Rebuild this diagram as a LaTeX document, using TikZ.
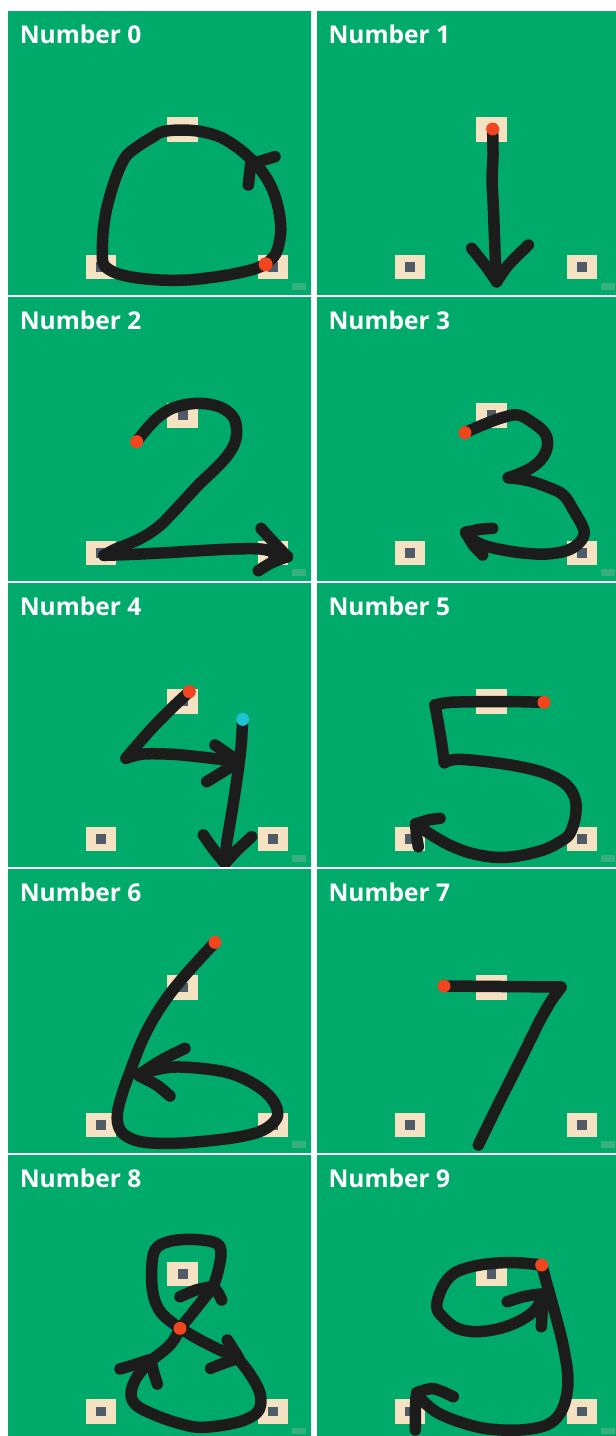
\documentclass[tikz,border=0pt]{standalone}
\usepackage{fontspec}
\setmainfont{Open Sans}
\definecolor{pgreen}{HTML}{00AA6A}
\definecolor{beige}{HTML}{F5E2C2}
\definecolor{slate}{HTML}{4F5B66}
\definecolor{ink}{HTML}{1C1C1C}
\definecolor{reddot}{HTML}{F0451F}
\definecolor{cyandot}{HTML}{1BC3D3}
\definecolor{wmark}{HTML}{36B07E}
\tikzset{
  pen/.style={draw=ink, line width=11.5pt, line cap=round, line join=round},
  startdot/.style={fill=reddot},
  seconddot/.style={fill=cyandot},
  paneltitle/.style={text=white, font=\bfseries\fontsize{24.5}{28}\selectfont, inner sep=0pt, anchor=base west},
  zoomed/.style={x=0.333333pt, y=-0.333333pt}
}
\newcommand\mypanel[3]{%
  \begin{scope}[xshift=#1pt, yshift=-#2pt]
    \fill[pgreen] (0,0) rectangle (303,284);
    \foreach \cx/\cy in {174.7/118.5, 93.1/256.2, 265.1/256.2} {
      \fill[beige] (\cx-15.3,\cy-12.2) rectangle (\cx+15.3,\cy+12.2);
      \fill[slate] (\cx-4.9,\cy-4.9) rectangle (\cx+4.9,\cy+4.9);
    }
    \fill[wmark] (284.3,272.3) rectangle (298,279);
    \node[paneltitle] (t#3) at (11.6,32.3) {Number #3};
  \end{scope}}
\begin{document}
\begin{tikzpicture}[x=1pt, y=-1pt]
\useasboundingbox (0,0) rectangle (616,1436);
\clip (0,0) rectangle (616,1436);
\fill[white] (0,0) rectangle (616,1436);
\mypanel{8}{11}{0}
\mypanel{316.7}{11}{1}
\mypanel{8}{296.8}{2}
\mypanel{316.7}{296.8}{3}
\mypanel{8}{582.8}{4}
\mypanel{316.7}{582.8}{5}
\mypanel{8}{868.9}{6}
\mypanel{316.7}{868.9}{7}
\mypanel{8}{1155.3}{8}
\mypanel{316.7}{1155.3}{9}

% ---- Number 0
\begin{scope}
\clip (8,11) rectangle (311,295);
\begin{scope}[zoomed]
\draw[pen] plot[smooth, tension=0.55] coordinates {(797,793) (828,760) (842,700) (838,640) (822,580) (797,530) (765,490) (722,450) (665,413) (605,395) (545,390) (488,395) (455,413) (412,440) (377,470) (352,520) (332,580) (317,640) (309,700) (307,760) (312,795) (345,818) (400,832) (480,840) (560,840) (630,833) (700,822) (760,808) (797,793)};
\draw[pen] (745,555) -- (752,492) -- (825,470);
\fill[startdot] (797,793) circle[radius=7pt];
\end{scope}
\end{scope}

% ---- Number 1
\begin{scope}
\clip (316.7,11) rectangle (620,295);
\begin{scope}[xshift=300pt, zoomed]
\draw[pen] plot[smooth] coordinates {(578,392) (579,470) (576,540) (580,620) (583,700) (586,780) (590,845)};
\draw[pen] plot[smooth] coordinates {(515,745) (555,795) (590,845)};
\draw[pen] plot[smooth] coordinates {(590,845) (625,795) (685,735)};
\fill[startdot] (578,387) circle[radius=6.5pt];
\end{scope}
\end{scope}

% ---- Number 2
\begin{scope}
\clip (8,296.8) rectangle (311,580.8);
\begin{scope}[yshift=-280pt, zoomed]
\draw[pen] plot[smooth, tension=0.6] coordinates {(410,485) (440,447) (480,407) (530,380) (600,370) (662,382) (700,412) (710,452) (703,492) (678,532) (640,572) (598,612) (558,655) (518,698) (478,738) (435,768) (390,790) (345,808) (312,826)};
\draw[pen] plot[smooth] coordinates {(312,826) (400,823) (500,818) (600,812) (700,807) (790,808) (862,830)};
\draw[pen] plot[smooth] coordinates {(783,745) (822,788) (862,830)};
\draw[pen] plot[smooth] coordinates {(862,830) (815,848) (775,872)};
\fill[startdot] (410,485) circle[radius=6.5pt];
\end{scope}
\end{scope}

% ---- Number 3
\begin{scope}
\clip (316.7,296.8) rectangle (620,580.8);
\begin{scope}[xshift=300pt, yshift=-280pt, zoomed]
\draw[pen] plot[smooth, tension=0.6] coordinates {(495,458) (555,432) (610,412) (655,405) (698,428) (735,460) (742,500) (722,540) (682,570) (625,593)};
\draw[pen] plot[smooth, tension=0.6] coordinates {(625,593) (685,602) (745,622) (790,645) (820,690) (852,752) (838,788) (800,812) (740,822) (680,820) (620,812) (558,798) (515,778) (497,757)};
\draw[pen] plot[smooth] coordinates {(497,757) (540,748) (578,745)};
\draw[pen] plot[smooth] coordinates {(497,757) (520,795) (548,825)};
\fill[startdot] (495,458) circle[radius=6.5pt];
\end{scope}
\end{scope}

% ---- Number 4
\begin{scope}
\clip (8,582.8) rectangle (311,866.8);
\begin{scope}[yshift=-570pt, zoomed]
\draw[pen] plot[smooth] coordinates {(568,365) (520,410) (470,460) (420,515) (378,565)};
\draw[pen] plot[smooth] coordinates {(378,565) (430,552) (520,553) (620,563) (712,575)};
\draw[pen] (645,525) -- (710,570);
\draw[pen] (710,580) -- (620,635);
\draw[pen] plot[smooth] coordinates {(728,450) (724,520) (716,590) (703,680) (690,760) (680,820) (675,880)};
\draw[pen] plot[smooth] coordinates {(610,795) (642,840) (675,880)};
\draw[pen] plot[smooth] coordinates {(675,880) (712,840) (755,800)};
\fill[startdot] (568,365) circle[radius=6.5pt];
\fill[seconddot] (728,448) circle[radius=6.5pt];
\end{scope}
\end{scope}

% ---- Number 5
\begin{scope}
\clip (316.7,582.8) rectangle (620,866.8);
\begin{scope}[xshift=300pt, yshift=-570pt, zoomed]
\draw[pen] plot[smooth] coordinates {(732,397) (650,395) (550,395) (450,397) (405,405)};
\draw[pen] plot[smooth] coordinates {(405,405) (415,460) (425,520) (433,578)};
\draw[pen] plot[smooth, tension=0.6] coordinates {(433,578) (470,568) (560,575) (660,590) (742,612) (800,645) (826,690) (826,740) (810,790) (785,812) (735,838) (660,857) (590,862) (515,850) (450,826) (395,795) (347,762)};
\draw[pen] plot[smooth] coordinates {(347,762) (385,750) (420,745)};
\draw[pen] plot[smooth] coordinates {(347,762) (350,800) (355,830)};
\fill[startdot] (732,397) circle[radius=6.5pt];
\end{scope}
\end{scope}

% ---- Number 6
\begin{scope}
\clip (8,868.9) rectangle (311,1152.9);
\begin{scope}[yshift=-860pt, zoomed]
\draw[pen] plot[smooth, tension=0.6] coordinates {(645,247) (598,298) (550,352) (502,412) (458,480) (422,552) (392,630) (367,700) (352,762) (358,805) (385,832) (435,847) (520,850) (620,843) (720,830) (790,810) (830,775) (828,738) (800,700) (750,665) (680,637) (580,623) (500,623) (418,643)};
\draw[pen] plot[smooth] coordinates {(418,643) (485,600) (555,565)};
\draw[pen] plot[smooth] coordinates {(418,648) (470,675) (510,708)};
\fill[startdot] (645,247) circle[radius=6.5pt];
\end{scope}
\end{scope}

% ---- Number 7
\begin{scope}
\clip (316.7,868.9) rectangle (620,1152.9);
\begin{scope}[xshift=300pt, yshift=-860pt, zoomed]
\draw[pen] (432,378) -- (783,381);
\draw[pen] plot[smooth] coordinates {(783,382) (752,425) (718,485) (680,562) (640,642) (590,742) (535,855)};
\fill[startdot] (432,378) circle[radius=6.5pt];
\end{scope}
\end{scope}

% ---- Number 8
\begin{scope}
\clip (8,1155.3) rectangle (311,1440);
\begin{scope}[yshift=-1140pt, zoomed]
\draw[pen] plot[smooth] coordinates {(540,565) (600,600) (660,630) (712,653)};
\draw[pen] plot[smooth, tension=0.6] coordinates {(712,653) (752,705) (780,760) (778,808) (745,835) (690,852) (600,862) (530,848) (460,823) (408,795) (393,760) (410,712) (450,665) (490,633) (518,605) (540,565)};
\draw[pen] plot[smooth] coordinates {(540,565) (590,503) (640,440)};
\draw[pen] plot[smooth, tension=0.6] coordinates {(640,440) (655,390) (663,335) (645,308) (575,298) (505,305) (465,330) (455,390) (460,465) (485,520) (540,565)};
\draw[pen] plot[smooth] coordinates {(540,470) (588,450) (635,440)};
\draw[pen] plot[smooth] coordinates {(642,442) (655,460) (665,480)};
\draw[pen] plot[smooth] coordinates {(682,600) (700,628) (715,652)};
\draw[pen] plot[smooth] coordinates {(715,655) (670,670) (632,685)};
\draw[pen] plot[smooth] coordinates {(360,687) (400,675) (445,660)};
\draw[pen] plot[smooth] coordinates {(452,660) (462,700) (472,732)};
\fill[startdot] (540,565) circle[radius=6.5pt];
\end{scope}
\end{scope}

% ---- Number 9
\begin{scope}
\clip (316.7,1155.3) rectangle (620,1440);
\begin{scope}[xshift=300pt, yshift=-1140pt, zoomed]
\draw[pen] plot[smooth, tension=0.6] coordinates {(725,375) (650,368) (580,370) (515,380) (462,400) (428,440) (410,500) (432,535) (472,565) (530,575) (600,565) (660,542) (705,510) (728,470)};
\draw[pen] plot[smooth] coordinates {(622,485) (670,470) (720,462)};
\draw[pen] plot[smooth] coordinates {(728,475) (726,520) (724,560)};
\draw[pen] plot[smooth, tension=0.6] coordinates {(728,385) (740,430) (765,520) (788,610) (803,700) (800,765) (780,820) (740,855) (660,870) (560,866) (480,846) (420,822) (385,798) (352,765)};
\draw[pen] plot[smooth] coordinates {(350,758) (400,746) (460,770)};
\draw[pen] plot[smooth] coordinates {(348,770) (346,820) (346,870)};
\fill[startdot] (725,375) circle[radius=6.5pt];
\end{scope}
\end{scope}
\end{tikzpicture}
\end{document}
